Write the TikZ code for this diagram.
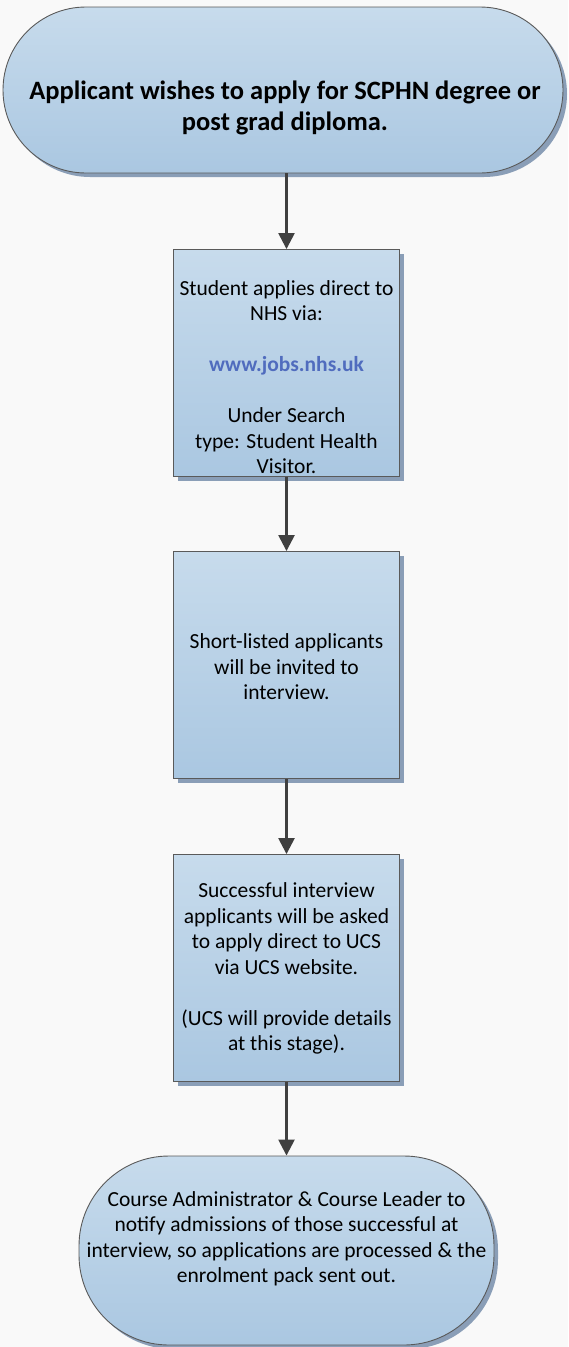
\documentclass[tikz,border=0pt]{standalone}
\usepackage{fontspec}
\setmainfont{Carlito}
\usetikzlibrary{arrows.meta,shadows}
\definecolor{topblue}{RGB}{199,219,236}
\definecolor{botblue}{RGB}{170,199,225}
\definecolor{edgegray}{RGB}{90,90,90}
\definecolor{shadowblue}{RGB}{138,158,183}
\definecolor{arrowgray}{RGB}{64,64,64}
\definecolor{linkblue}{RGB}{80,108,190}
\definecolor{pagegray}{RGB}{249,249,249}

\begin{document}
\begin{tikzpicture}[x=1pt,y=-1pt,
    blk/.style={draw=edgegray,line width=0.9pt,top color=topblue,bottom color=botblue,inner sep=0pt,
        drop shadow={shadow xshift=4pt,shadow yshift=-4pt,fill=shadowblue,opacity=1}},
    stepbox/.style={blk,minimum width=226pt,minimum height=227pt},
    term/.style={blk,rounded corners=#1},
    txt/.style={align=center,font=\fontsize{21.5}{25.5}\selectfont},
    arr/.style={draw=arrowgray,line width=2.5pt,-{Triangle[length=16pt,width=16pt]}}]
    \fill[pagegray] (0,0) rectangle (568,1347);
    \node[term=83pt,minimum width=560pt,minimum height=166pt] (start) at (283,90) {};
    \node[txt,font=\fontsize{26.5}{31.5}\selectfont\bfseries] (startT) at (285,108) {Applicant wishes to apply for SCPHN degree or\\post grad diploma.};
    \node[stepbox] (apply) at (286.5,363) {};
    \node[txt] (applyT) at (286.5,377) {Student applies direct to\\NHS via:\\[25.5pt]
        {\bfseries\color{linkblue}www.jobs.nhs.uk}\\[25.5pt]
        Under Search\\ type: Student Health\\Visitor.};
    \node[stepbox] (shortlist) at (286.5,665) {};
    \node[txt] (shortlistT) at (286.5,667) {Short-listed applicants\\will be invited to\\interview.};
    \node[stepbox] (interview) at (286.5,968) {};
    \node[txt] (interviewT) at (286.5,968.5) {Successful interview\\applicants will be asked\\to apply direct to UCS\\via UCS website.\\[25.5pt]
        (UCS will provide details\\at this stage).};
    \node[term=90pt,minimum width=415pt,minimum height=189pt] (enrol) at (286.5,1250.5) {};
    \node[txt] (enrolT) at (286.5,1239) {Course Administrator \& Course Leader to\\notify admissions of those successful at\\interview, so applications are processed \& the\\enrolment pack sent out.};
    \draw[arr] (apply.north |- start.south) -- (apply.north);
    \foreach \a/\b in {apply/shortlist,shortlist/interview,interview/enrol}
        \draw[arr] (\a.south) -- (\b.north);
\end{tikzpicture}
\end{document}
